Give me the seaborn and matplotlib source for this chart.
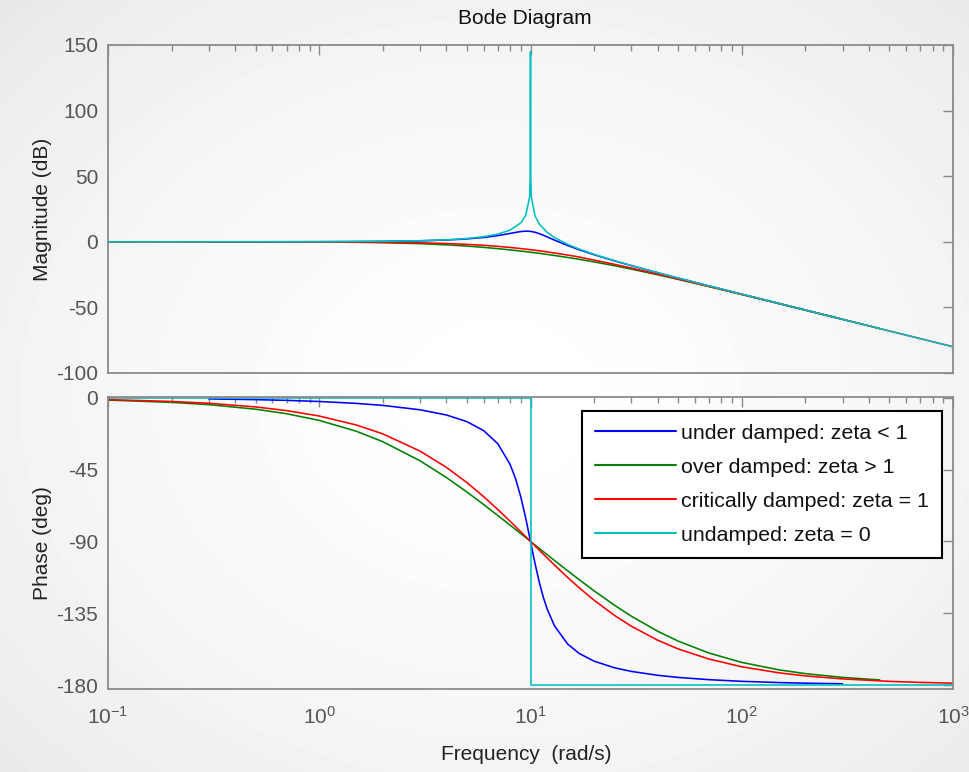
import numpy as np
import pandas as pd
import matplotlib
matplotlib.use("Agg")
import matplotlib.pyplot as plt
import seaborn as sns
from matplotlib.ticker import LogLocator, NullFormatter, FixedLocator

# ---------------- data ----------------
labels = ["under damped: zeta < 1", "over damped: zeta > 1",
          "critically damped: zeta = 1", "undamped: zeta = 0"]
colors = ["#0000ff", "#008000", "#ff0000", "#00bfbf"]

freq_under = [0.3, 0.5, 0.7, 1, 1.5, 2, 3, 4, 5, 6, 7, 8, 8.5, 9, 9.5, 10, 10.5, 11,
              11.5, 12, 13, 15, 17, 20, 25, 30, 40, 50, 70, 100, 150, 200, 300]
mag_under = [0.01, 0.02, 0.04, 0.08, 0.18, 0.33, 0.74, 1.36, 2.20, 3.31, 4.71, 6.35,
             7.15, 7.81, 8.13, 7.96, 7.28, 6.24, 5.01, 3.73, 1.27, -2.84, -6.06,
             -9.84, -14.56, -18.16, -23.57, -27.63, -33.64, -39.92, -47.01, -52.02, -59.08]
phase_under = [-0.69, -1.15, -1.61, -2.31, -3.51, -4.76, -7.51, -10.78, -14.93, -20.56,
               -28.77, -41.63, -50.78, -62.18, -75.61, -90.0, -103.71, -115.51, -125.03,
               -132.51, -143.0, -154.36, -160.21, -165.07, -169.22, -171.47, -173.91,
               -175.24, -176.66, -177.69, -178.47, -178.85, -179.24]

freq_over = [0.1, 0.2, 0.3, 0.5, 0.7, 1, 1.5, 2, 3, 4, 5, 6, 7, 8, 9, 10, 11, 12, 13,
             15, 17, 20, 25, 30, 40, 50, 70, 100, 150, 200, 300, 450]
mag_over = [0.0, -0.01, -0.02, -0.05, -0.09, -0.18, -0.40, -0.69, -1.43, -2.32, -3.27,
            -4.25, -5.22, -6.16, -7.08, -7.96, -8.81, -9.64, -10.43, -11.94, -13.35,
            -15.32, -18.24, -20.80, -25.12, -28.65, -34.17, -40.18, -47.13, -52.09,
            -59.11, -66.14]
phase_over = [-1.43, -2.86, -4.29, -7.14, -9.97, -14.17, -20.99, -27.51, -39.49, -49.97,
              -59.04, -66.89, -73.75, -79.80, -85.17, -90.0, -94.37, -98.34, -101.99,
              -108.43, -113.97, -120.96, -130.03, -136.85, -146.31, -152.49, -159.97,
              -165.83, -170.50, -172.86, -175.23, -176.82]

freq_crit = [0.1, 0.2, 0.3, 0.5, 0.7, 1, 1.5, 2, 3, 4, 5, 6, 7, 8, 9, 10, 11, 12, 13,
             15, 17, 20, 25, 30, 40, 50, 70, 100, 150, 200, 300, 500, 700, 1000]
mag_crit = [0.0, 0.0, -0.01, -0.02, -0.04, -0.09, -0.19, -0.34, -0.75, -1.29, -1.94,
            -2.67, -3.46, -4.30, -5.16, -6.02, -6.87, -7.71, -8.53, -10.11, -11.59,
            -13.98, -17.20, -20.0, -24.61, -28.30, -33.98, -40.09, -47.06, -52.05,
            -59.09, -67.96, -73.81, -80.0]
phase_crit = [-1.15, -2.29, -3.44, -5.72, -8.01, -11.42, -17.06, -22.62, -33.40, -43.60,
              -53.13, -61.93, -69.98, -77.32, -83.97, -90.0, -95.45, -100.39, -104.86,
              -112.62, -119.06, -126.87, -136.40, -143.13, -151.93, -157.38, -163.74,
              -168.58, -172.37, -174.28, -176.18, -177.71, -178.36, -178.85]

freq_undamped_mag = [0.1, 1, 2, 3, 4, 5, 6, 7, 8, 9, 9.5, 9.9, 9.99, 9.9998, 10,
                     10.0002, 10.01, 10.1, 10.5, 11, 12, 13, 15, 17, 20, 25, 30, 40,
                     50, 70, 100, 150, 200, 300, 500, 700, 1000]
mag_undamped = [0.0, 0.09, 0.36, 0.82, 1.51, 2.50, 3.88, 5.85, 8.87, 14.43, 20.22,
                34.02, 53.98, 88.0, 145.0, 88.0, 53.97, 33.94, 19.79, 13.56, 7.13,
                3.22, -1.94, -5.53, -9.54, -14.40, -18.06, -23.52, -27.60, -33.62,
                -39.91, -47.0, -52.02, -59.08, -67.96, -73.80, -80.0]
freq_undamped_phase = [0.1, 10, 10, 1000]
phase_undamped = [0.0, 0.0, -180.0, -180.0]

mag_ticks = [-100, -50, 0, 50, 100, 150]
phase_ticks = [-180, -135, -90, -45, 0]

# ---------------- styling ----------------
sns.set_theme(style="white")
plt.rcParams["font.family"] = ["Liberation Sans", "DejaVu Sans"]
plt.rcParams["mathtext.fontset"] = "custom"
plt.rcParams["mathtext.rm"] = "Liberation Sans"
plt.rcParams["mathtext.it"] = "Liberation Sans:italic"
plt.rcParams["mathtext.bf"] = "Liberation Sans:bold"
plt.rcParams["mathtext.default"] = "regular"
plt.rcParams["axes.unicode_minus"] = False

W, H = 969, 772
fig = plt.figure(figsize=(W / 100, H / 100), dpi=100)

# soft radial background
bg = fig.add_axes([0, 0, 1, 1], zorder=-10)
yy, xx = np.mgrid[0:H, 0:W]
r = np.hypot((xx - 500) / W, (yy - 400) / H)
shade = 1.0 - 0.085 * np.clip(r / 0.72, 0, 1) ** 1.6
bg.imshow(shade, cmap="gray", vmin=0, vmax=1, aspect="auto",
          extent=(0, 1, 0, 1), interpolation="bilinear")
bg.set_axis_off()

left, right = 108, 953
ax1 = fig.add_axes([left / W, 1 - 373 / H, (right - left) / W, (373 - 45) / H])
ax2 = fig.add_axes([left / W, 1 - 689 / H, (right - left) / W, (689 - 397) / H])

lw = 1.15
for ax in (ax1, ax2):
    ax.set_facecolor("none")
    ax.set_xscale("log")

series_mag = [(freq_under, mag_under), (freq_over, mag_over),
              (freq_crit, mag_crit), (freq_undamped_mag, mag_undamped)]
series_phase = [(freq_under, phase_under), (freq_over, phase_over),
                (freq_crit, phase_crit), (freq_undamped_phase, phase_undamped)]

for (f, m), c in zip(series_mag, colors):
    df = pd.DataFrame({"freq": f, "val": m})
    sns.lineplot(data=df, x="freq", y="val", ax=ax1, color=c, lw=lw,
                 sort=False, estimator=None, legend=False)

for (f, p), c, lab in zip(series_phase, colors, labels):
    df = pd.DataFrame({"freq": f, "val": p})
    sns.lineplot(data=df, x="freq", y="val", ax=ax2, color=c, lw=lw,
                 sort=False, estimator=None, label=lab)

ax1.set_ylim(-100, 150)
ax1.yaxis.set_major_locator(FixedLocator(mag_ticks))
ax2.set_ylim(-182.5, 0.5)
ax2.yaxis.set_major_locator(FixedLocator(phase_ticks))

spine_c = "#8a8a8a"
for ax in (ax1, ax2):
    ax.set_xlim(0.1, 1000)
    ax.xaxis.set_major_locator(LogLocator(base=10, numticks=10))
    ax.xaxis.set_minor_locator(LogLocator(base=10, subs=np.arange(2, 10), numticks=20))
    ax.xaxis.set_minor_formatter(NullFormatter())
    ax.tick_params(which="both", direction="in", top=True, right=True,
                   color=spine_c, labelcolor="#555555", labelsize=15, width=1.0)
    ax.tick_params(which="major", length=7)
    ax.tick_params(which="minor", length=4)
    ax.tick_params(axis="y", pad=7)
    ax.tick_params(axis="x", pad=12)
    for s in ax.spines.values():
        s.set_color(spine_c)
        s.set_linewidth(1.3)
    ax.set_xlabel("")

ax1.tick_params(axis="x", which="both", labelbottom=False)
ax1.set_ylabel("Magnitude (dB)", fontsize=15, color="#222222", labelpad=3)
ax2.set_ylabel("Phase (deg)", fontsize=15, color="#222222", labelpad=3)

fig.text(525 / W, 1 - 19 / H, "Bode Diagram", ha="center",
         va="center", fontsize=15, color="#111111")
fig.text(526 / W, 1 - 755 / H, "Frequency  (rad/s)", ha="center",
         va="center", fontsize=15, color="#222222")

leg = ax2.legend(loc="upper right",
                 bbox_to_anchor=((942 - left) / (right - left), (689 - 411) / (689 - 397)),
                 frameon=True, fancybox=False, framealpha=1, facecolor="white",
                 edgecolor="black", fontsize=15.4, handlelength=3.8,
                 handletextpad=0.25, labelspacing=0.7, borderpad=0.6,
                 borderaxespad=0)
leg.get_frame().set_linewidth(1.5)
for t in leg.get_texts():
    t.set_color("#111111")
for h in leg.get_lines():
    h.set_linewidth(1.5)

fig.savefig("out.png", dpi=100)
